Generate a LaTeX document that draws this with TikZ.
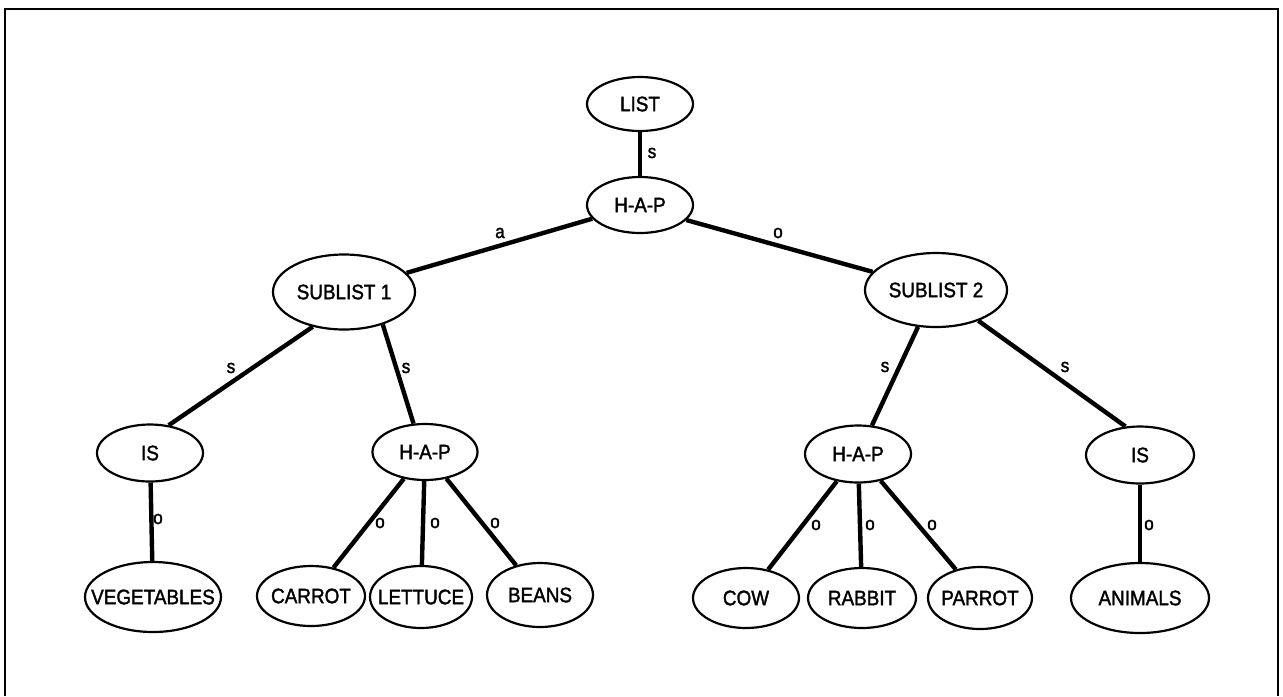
\documentclass[tikz,border=0pt]{standalone}
\usepackage{fontspec}
\setmainfont{Liberation Sans}[FakeStretch=0.9,FakeBold=1.6]
\usepackage{tikz}
\usetikzlibrary{shapes.geometric}
\newcommand{\nlab}[1]{\makebox[0pt]{#1}}

\begin{document}
\begin{tikzpicture}[x=0.5pt,y=-0.5pt,
    el/.style={ellipse, draw, line width=1.1pt, inner sep=0pt, font=\fontsize{10.5}{11}\selectfont},
    lk/.style={line width=2.2pt},
    rel/.style={inner sep=0pt, font=\fontsize{9.5}{10}\selectfont}]
\useasboundingbox (0,0) rectangle (1283,696);
\draw[line width=1.4pt] (5,696) -- (5,9) -- (1278,9) -- (1278,696);

% top of the tree
\node[el, minimum width=53pt, minimum height=27pt] (list) at (640,104) {\nlab{LIST}};
\node[el, minimum width=53pt, minimum height=28pt] (hap) at (640,205) {\nlab{H-A-P}};
\node[el, minimum width=71pt, minimum height=37.5pt] (sub1) at (344,292) {\nlab{SUBLIST 1}};
\node[el, minimum width=71pt, minimum height=37pt] (sub2) at (936,290) {\nlab{SUBLIST 2}};

% middle row
\node[el, minimum width=53pt, minimum height=28.5pt] (isL) at (150,453) {\nlab{IS}};
\node[el, minimum width=52.5pt, minimum height=28pt] (hapL) at (425,452) {\nlab{H-A-P}};
\node[el, minimum width=53pt, minimum height=28.5pt] (hapR) at (858,454) {\nlab{H-A-P}};
\node[el, minimum width=54pt, minimum height=28.5pt] (isR) at (1140,455) {\nlab{IS}};

% leaves
\node[el, minimum width=68pt, minimum height=35pt] (veg) at (153,597) {\nlab{VEGETABLES}};
\node[el, minimum width=54pt, minimum height=30pt] (carrot) at (311,596) {\nlab{CARROT}};
\node[el, minimum width=51pt, minimum height=31pt] (lettuce) at (421,597) {\nlab{LETTUCE}};
\node[el, minimum width=53pt, minimum height=32pt] (beans) at (540,595) {\nlab{BEANS}};
\node[el, minimum width=53pt, minimum height=30pt] (cow) at (746,598) {\nlab{COW}};
\node[el, minimum width=54pt, minimum height=30pt] (rabbit) at (862,598) {\nlab{RABBIT}};
\node[el, minimum width=52pt, minimum height=31pt] (parrot) at (980,598) {\nlab{PARROT}};
\node[el, minimum width=69pt, minimum height=35pt] (animals) at (1140,598) {\nlab{ANIMALS}};

% links
\draw[lk] (list) -- (hap);
\draw[lk] (hap.196) -- (sub1.17);
\draw[lk] (hap.342) -- (sub2.164);
\draw[lk] (sub1.228) -- (isL.56);
\draw[lk] (sub1.320) -- (hapL.112);
\draw[lk] (sub2.244) -- (hapR.64);
\draw[lk] (sub2.324) -- (isR.117);
\draw[lk] (isL) -- (veg);
\draw[lk] (hapL) -- (carrot);
\draw[lk] (hapL) -- (lettuce);
\draw[lk] (hapL) -- (beans);
\draw[lk] (hapR) -- (cow);
\draw[lk] (hapR) -- (rabbit);
\draw[lk] (hapR) -- (parrot);
\draw[lk] (isR) -- (animals);

% link labels
\node[rel] (s0) at (652,153) {s};
\node[rel] (a1) at (500,233) {a};
\node[rel] (o1) at (778,233) {o};
\node[rel] (s1) at (231,368) {s};
\node[rel] (s2) at (406,368) {s};
\node[rel] (s3) at (885,367) {s};
\node[rel] (s4) at (1065,367) {s};
\node[rel] (o2) at (158,519) {o};
\node[rel] (o3) at (380,523) {o};
\node[rel] (o4) at (435,523) {o};
\node[rel] (o5) at (495,523) {o};
\node[rel] (o6) at (816,525) {o};
\node[rel] (o7) at (870,525) {o};
\node[rel] (o8) at (932,525) {o};
\node[rel] (o9) at (1149,525) {o};
\end{tikzpicture}
\end{document}
